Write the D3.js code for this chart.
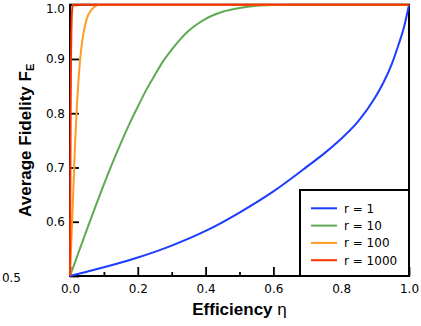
<!DOCTYPE html>
<html>
<head>
<meta charset="utf-8">
<script src="https://cdn.jsdelivr.net/npm/d3@7"></script>
<style>
  body { margin: 0; background: #fff; }
  svg { display: block; }
  .tick text { font-family: "DejaVu Sans", sans-serif; font-size: 12px; fill: #000; }
  .title { font-family: "Liberation Sans", Arial, sans-serif; font-weight: bold; font-size: 17px; }
  .legend text { font-family: "DejaVu Sans", sans-serif; font-size: 12px; }
</style>
</head>
<body>
<div id="chart"></div>
<script>
// values, [efficiency, average fidelity]
const seriesR1 = [
  [0, 0.5], [0.05, 0.508], [0.1, 0.516], [0.2, 0.534], [0.3, 0.556],
  [0.4, 0.583], [0.5, 0.617], [0.6, 0.656], [0.7, 0.702], [0.75, 0.726],
  [0.8, 0.753], [0.85, 0.785], [0.9, 0.829], [0.925, 0.857], [0.95, 0.892],
  [0.97, 0.928], [0.985, 0.958], [1.0, 1.0]
];
const seriesR10 = [
  [0, 0.5], [0.025, 0.543], [0.05, 0.586], [0.075, 0.628], [0.1, 0.669],
  [0.125, 0.708], [0.15, 0.745], [0.175, 0.780], [0.2, 0.812], [0.225, 0.843],
  [0.25, 0.870], [0.275, 0.896], [0.3, 0.917], [0.325, 0.936], [0.35, 0.952],
  [0.375, 0.964], [0.4, 0.974], [0.45, 0.987], [0.5, 0.994], [0.55, 0.998],
  [0.6, 0.9995], [0.65, 1.0], [1.0, 1.0]
];
const seriesR100 = [
  [0, 0.5], [0.005, 0.58], [0.01, 0.66], [0.015, 0.745], [0.02, 0.81],
  [0.025, 0.86], [0.03, 0.90], [0.035, 0.928], [0.04, 0.948], [0.045, 0.963],
  [0.05, 0.975], [0.06, 0.988], [0.07, 0.995], [0.08, 0.999], [0.09, 1.0], [1.0, 1.0]
];
const seriesR1000 = [
  [0, 0.5], [0.001, 0.66], [0.002, 0.81], [0.003, 0.90], [0.004, 0.948],
  [0.005, 0.975], [0.006, 0.988], [0.007, 0.995], [0.008, 0.999], [0.009, 1.0], [1.0, 1.0]
];
const seriesLabels = ["r = 1", "r = 10", "r = 100", "r = 1000"];
const xMajorTicks = [0, 0.2, 0.4, 0.6, 0.8, 1.0];
const xMinorTicks = [0.1, 0.3, 0.5, 0.7, 0.9];
const yTicks = [0.5, 0.6, 0.7, 0.8, 0.9, 1.0];

const colors = ["#1c3cff", "#5eaa52", "#ff9b1f", "#ff3300"];
const series = [seriesR1, seriesR10, seriesR100, seriesR1000];

const W = 421, H = 326;
const svg = d3.select("#chart").append("svg").attr("width", W).attr("height", H);

const x = d3.scaleLinear().domain([0, 1]).range([70, 409]);
const y = d3.scaleLinear().domain([0.5, 1]).range([276, 4.7]);

// frame
svg.append("rect")
  .attr("x", x(0)).attr("y", y(1))
  .attr("width", x(1) - x(0)).attr("height", y(0.5) - y(1))
  .attr("fill", "none").attr("stroke", "#000").attr("stroke-width", 2);

// x axis, ticks point inward
const xAxis = svg.append("g").attr("transform", `translate(0,${y(0.5)})`)
  .call(d3.axisBottom(x).tickValues(xMajorTicks).tickSize(-9).tickSizeOuter(0)
    .tickPadding(8).tickFormat(d3.format(".1f")));
xAxis.select(".domain").remove();
xAxis.selectAll(".tick line").attr("stroke-width", 1.8);

const xMinor = svg.append("g").attr("transform", `translate(0,${y(0.5)})`)
  .call(d3.axisBottom(x).tickValues(xMinorTicks).tickSize(-4).tickSizeOuter(0).tickFormat(""));
xMinor.select(".domain").remove();
xMinor.selectAll(".tick line").attr("stroke-width", 1.8);

// y axis
const yAxis = svg.append("g").attr("transform", `translate(${x(0)},0)`)
  .call(d3.axisLeft(y).tickValues(yTicks).tickSize(-9).tickSizeOuter(0)
    .tickPadding(5).tickFormat(d3.format(".1f")));
yAxis.select(".domain").remove();
yAxis.selectAll(".tick line").attr("stroke-width", 1.8);
// end labels are nudged in the original: 0.5 sits further left, 1.0 a bit lower
yAxis.selectAll(".tick").filter(d => d === 0.5).select("text").attr("x", -49).attr("y", 2);
yAxis.selectAll(".tick").filter(d => d === 1.0).select("text").attr("y", 4);

// curves
const line = d3.line().x(d => x(d[0])).y(d => y(d[1])).curve(d3.curveMonotoneX);
svg.selectAll("path.curve")
  .data(series)
  .enter()
  .append("path")
  .attr("class", "curve")
  .attr("d", line)
  .attr("fill", "none")
  .attr("stroke", (d, i) => colors[i])
  .attr("stroke-width", 2);

// legend
const legend = svg.append("g").attr("class", "legend");
legend.append("rect")
  .attr("x", 300).attr("y", 190).attr("width", 109).attr("height", 86)
  .attr("fill", "#fff").attr("stroke", "#000").attr("stroke-width", 2);
const rows = legend.selectAll("g.row")
  .data(seriesLabels)
  .enter()
  .append("g")
  .attr("class", "row")
  .attr("transform", (d, i) => `translate(0,${208.3 + i * 17.3})`);
rows.append("line")
  .attr("x1", 311).attr("x2", 337)
  .attr("stroke", (d, i) => colors[i]).attr("stroke-width", 2);
rows.append("text")
  .attr("x", 344).attr("dy", "0.36em")
  .text(d => d);

// axis titles
const xTitle = svg.append("text").attr("class", "title")
  .attr("x", (x(0) + x(1)) / 2).attr("y", 315).attr("text-anchor", "middle");
xTitle.append("tspan").text("Efficiency ");
xTitle.append("tspan").attr("font-weight", "normal").text("η");

const yTitle = svg.append("text").attr("class", "title")
  .attr("transform", `translate(31,${(y(0.5) + y(1)) / 2}) rotate(-90)`)
  .attr("text-anchor", "middle");
yTitle.append("tspan").text("Average Fidelity F");
yTitle.append("tspan").attr("font-size", "11px").attr("dy", 3).text("E");
</script>
</body>
</html>
